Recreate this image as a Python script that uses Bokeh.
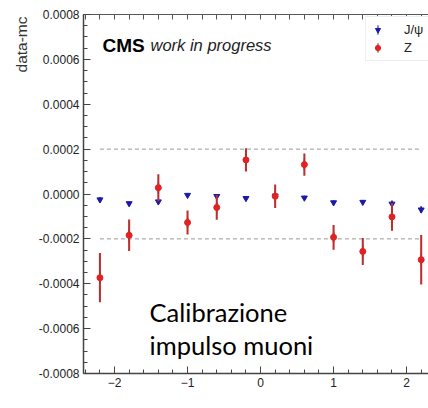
from bokeh.plotting import figure
from bokeh.models import (ColumnDataSource, LinearAxis, FixedTicker, NumeralTickFormatter,
                          Label, Legend, LegendItem, Title)
from bokeh.embed import file_html
from bokeh.resources import INLINE

# ---- data ----
eta = [-2.2, -1.8, -1.4, -1.0, -0.6, -0.2, 0.2, 0.6, 1.0, 1.4, 1.8, 2.2]
z_val = [-0.000373, -0.000184, 0.000028, -0.000127, -0.000060, 0.000152,
         -0.000010, 0.000131, -0.000193, -0.000256, -0.000102, -0.000293]
z_err = [0.000110, 0.000070, 0.000060, 0.000054, 0.000055, 0.000052,
         0.000052, 0.000050, 0.000055, 0.000060, 0.000062, 0.000110]
jpsi_val = [-0.000025, -0.000042, -0.000034, -0.000005, -0.000010, -0.000019,
            -0.000008, -0.000017, -0.000038, -0.000036, -0.000044, -0.000070]
jpsi_err = [0.000012, 0.000008, 0.000008, 0.000006, 0.000006, 0.000006,
            0.000006, 0.000006, 0.000008, 0.000008, 0.000015, 0.000015]
band = [-0.0002, 0.0002]
y_ticks = [-0.0008, -0.0006, -0.0004, -0.0002, 0.0, 0.0002, 0.0004, 0.0006, 0.0008]
x_ticks = [-2, -1, 0, 1, 2]
series_labels = ["J/\u03c8", "Z"]

FONT = "Liberation Sans"
RED = "#e02222"
RED_BAR = "#b83030"
BLUE = "#1a1aa8"

p = figure(width=428, height=408, x_range=(-2.425, 2.30), y_range=(-0.0008, 0.0008),
           output_backend="svg", toolbar_location=None,
           min_border_left=83, min_border_right=0, min_border_top=14, min_border_bottom=35)
p.xgrid.visible = False
p.ygrid.visible = False
p.outline_line_color = None
p.background_fill_color = "white"

# axes
y_minor = [y_ticks[0] + i * 0.00005 for i in range(33)]
x_minor = [-2.4 + i * 0.2 for i in range(25)]
p.yaxis.ticker = FixedTicker(ticks=y_ticks, minor_ticks=y_minor)
p.yaxis.formatter = NumeralTickFormatter(format="0.0000")
p.xaxis.ticker = FixedTicker(ticks=x_ticks, minor_ticks=x_minor)
for ax in (p.xaxis[0], p.yaxis[0]):
    ax.axis_line_color = "#444444"
    ax.axis_line_width = 1.5
    ax.major_tick_line_color = "#444444"
    ax.minor_tick_line_color = "#444444"
    ax.major_tick_in = 7
    ax.major_tick_out = 0
    ax.minor_tick_in = 4
    ax.minor_tick_out = 0
    ax.major_label_text_font = FONT
    ax.major_label_text_font_size = "12px"
    ax.major_label_text_color = "#222222"
    ax.major_label_standoff = 4

# top axis: ticks only (no labels)
top = LinearAxis(ticker=FixedTicker(ticks=[], minor_ticks=x_minor),
                 axis_line_color="#555555", axis_line_width=1.2,
                 minor_tick_in=5, minor_tick_out=0, minor_tick_line_color="#555555",
                 major_tick_in=0, major_tick_out=0)
p.add_layout(top, "above")

# y-axis title at the top end, ROOT style
p.add_layout(Title(text="data-mc", align="right", text_font=FONT, text_font_size="15.5px",
                   text_font_style="normal", text_color="#333333", standoff=11, offset=2),
             "left")

# dashed reference lines
p.segment(x0=[eta[0]] * 2, x1=[eta[-1]] * 2, y0=band, y1=band,
          line_color="#999999", line_width=1, line_dash="4 3")

# data
src_j = ColumnDataSource(dict(x=eta, y=jpsi_val,
                              lo=[v - e for v, e in zip(jpsi_val, jpsi_err)],
                              hi=[v + e for v, e in zip(jpsi_val, jpsi_err)]))
src_z = ColumnDataSource(dict(x=eta, y=z_val,
                              lo=[v - e for v, e in zip(z_val, z_err)],
                              hi=[v + e for v, e in zip(z_val, z_err)]))

# thin ellipses (hidden under the error bars) give the legend a vertical error-bar glyph
j_ell = p.ellipse(x="x", y="y", source=src_j, width=0.6, height=5,
                  width_units="screen", height_units="screen",
                  fill_color=BLUE, line_color=None)
z_ell = p.ellipse(x="x", y="y", source=src_z, width=2.0, height=14,
                  width_units="screen", height_units="screen",
                  fill_color=RED_BAR, line_color=None)
p.vbar(x="x", bottom="lo", top="hi", width=0.022, source=src_j,
       fill_color=BLUE, line_color=None)
j_pt = p.scatter(x="x", y="y", source=src_j, marker="inverted_triangle", size=6,
                 fill_color=BLUE, line_color=BLUE)
p.vbar(x="x", bottom="lo", top="hi", width=0.028, source=src_z,
       fill_color=RED_BAR, line_color=None)
z_pt = p.scatter(x="x", y="y", source=src_z, marker="circle", size=6,
                 fill_color=RED, line_color=RED)

legend = Legend(items=[LegendItem(label=series_labels[0], renderers=[j_ell, j_pt]),
                       LegendItem(label=series_labels[1], renderers=[z_ell, z_pt])],
                location=(282, 312), padding=5, spacing=3, glyph_width=13, glyph_height=13,
                label_height=13, label_standoff=20, label_text_font=FONT,
                label_text_font_size="13px", label_text_color="#222222",
                border_line_color="#dddddd", border_line_width=1,
                background_fill_color="white", background_fill_alpha=1.0, margin=0)
p.add_layout(legend, "center")

# texts
p.add_layout(Label(x=-2.164, y=0.000662, text="CMS", text_font=FONT,
                   text_font_style="bold", text_font_size="19px", text_color="black",
                   text_baseline="alphabetic"))
p.add_layout(Label(x=-1.507, y=0.000662, text="work in progress", text_font=FONT,
                   text_font_style="italic", text_font_size="16.5px", text_color="#222222",
                   text_baseline="alphabetic"))
p.add_layout(Label(x=-1.52, y=-0.000528, text="Calibrazione", text_font="Lato",
                   text_font_size="25.5px", text_color="black", text_baseline="alphabetic"))
p.add_layout(Label(x=-1.52, y=-0.000671, text="impulso muoni", text_font="Lato",
                   text_font_size="25.5px", text_color="black", text_baseline="alphabetic"))

open("out.html", "w").write(file_html(p, INLINE))
